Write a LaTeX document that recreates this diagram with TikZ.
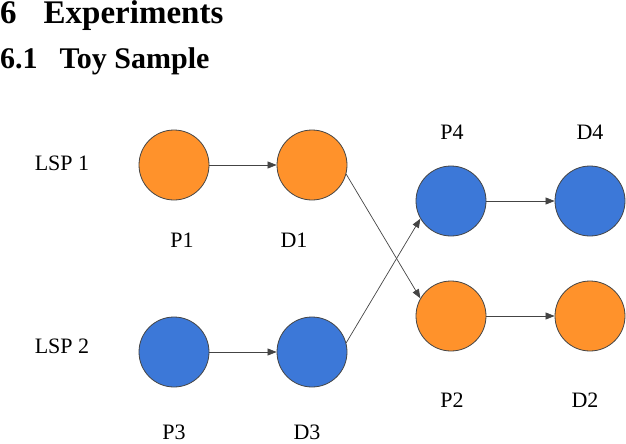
\documentclass[tikz,border=0pt]{standalone}
\usepackage{fontspec}
\setmainfont{Liberation Serif}
\usetikzlibrary{arrows.meta}
\definecolor{orng}{HTML}{FF922B}
\definecolor{blu}{HTML}{3C78D8}
\definecolor{edge}{HTML}{444444}
\begin{document}
\begin{tikzpicture}[x=1pt,y=-1pt,
  circ/.style={circle,draw=edge,line width=0.8pt,minimum size=70pt,inner sep=0pt},
  lbl/.style={font=\fontsize{22}{24}\selectfont,anchor=center},
  conn/.style={draw=edge,line width=0.7pt,-{Triangle[length=9pt,width=7pt]}}]
\useasboundingbox (0,0) rectangle (626,444);
\node[anchor=west,inner sep=0pt,font=\fontsize{33}{36}\selectfont\bfseries] (h1) at (0,16) {6\hspace{27pt}Experiments};
\node[anchor=west,inner sep=0pt,font=\fontsize{30}{32}\selectfont\bfseries] (h2) at (0,61) {6.1\hspace{22pt}Toy Sample};
\node[circ,fill=orng] (p1) at (174,165) {};
\node[circ,fill=orng] (d1) at (312,165) {};
\node[circ,fill=blu] (p4) at (451,201) {};
\node[circ,fill=blu] (d4) at (590,201) {};
\node[circ,fill=orng] (p2) at (451,316) {};
\node[circ,fill=orng] (d2) at (590,316) {};
\node[circ,fill=blu] (p3) at (174,352) {};
\node[circ,fill=blu] (d3) at (312,352) {};
\node[lbl] (l1) at (62,163) {LSP 1};
\node[lbl] (l2) at (62,346) {LSP 2};
\node[lbl] (tp1) at (182,240) {P1};
\node[lbl] (td1) at (294,240) {D1};
\node[lbl] (tp4) at (452,132) {P4};
\node[lbl] (td4) at (590,132) {D4};
\node[lbl] (tp2) at (452,400) {P2};
\node[lbl] (td2) at (585,400) {D2};
\node[lbl] (tp3) at (174,432) {P3};
\node[lbl] (td3) at (307,432) {D3};
\draw[conn] (p1) -- (d1);
\draw[conn] (p3) -- (d3);
\draw[conn] (p4) -- (d4);
\draw[conn] (p2) -- (d2);
\draw[conn] (d1.-15) -- (p2.150);
\draw[conn] (d3.15) -- (p4.-150);
\end{tikzpicture}
\end{document}
